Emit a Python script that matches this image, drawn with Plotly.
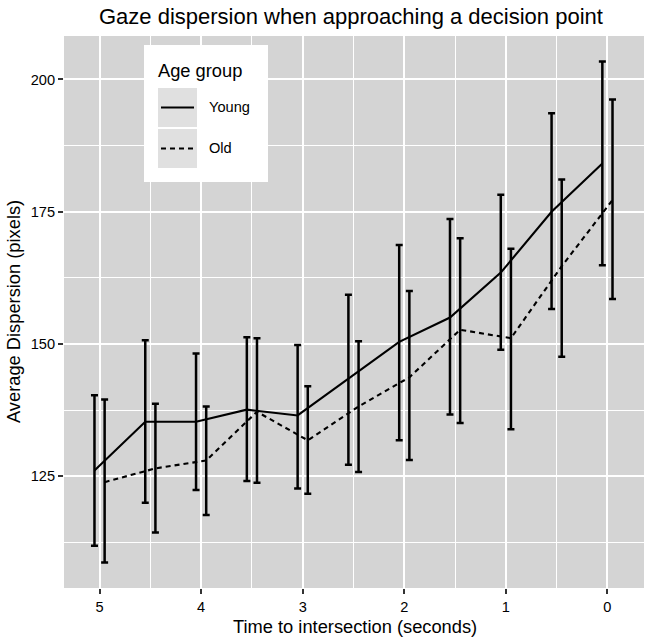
import plotly.graph_objects as go

# ---- data ----
time_s = [5, 4.5, 4, 3.5, 3, 2.5, 2, 1.5, 1, 0.5, 0]
young_mean = [126.1, 135.3, 135.3, 137.6, 136.5, 143.4, 150.4, 155.0, 163.5, 175.0, 184.1]
young_upper = [140.3, 150.7, 148.2, 151.3, 149.8, 159.3, 168.7, 173.6, 178.2, 193.6, 203.4]
young_lower = [111.9, 120.0, 122.4, 124.1, 122.7, 127.2, 131.8, 136.7, 148.9, 156.6, 164.9]
old_mean = [123.9, 126.5, 128.0, 137.2, 131.8, 138.2, 143.7, 152.7, 151.1, 164.7, 177.2]
old_upper = [139.5, 138.7, 138.2, 151.1, 142.0, 150.5, 160.0, 170.0, 168.0, 181.1, 196.2]
old_lower = [108.7, 114.4, 117.7, 123.8, 121.7, 125.8, 128.1, 135.1, 133.9, 147.6, 158.5]
x_ticks = [5, 4, 3, 2, 1, 0]
y_ticks = [125, 150, 175, 200]
groups = ["Young", "Old"]

W, H = 646, 644
ML, MR, MT, MB = 64, 2, 36, 56
PW, PH = W - ML - MR, H - MT - MB
DODGE = 0.05
FONT = "Liberation Sans, Arial, Helvetica, sans-serif"


def px2x(px):
    return (px - ML) / PW


def py2y(py):
    return (H - MB - py) / PH


fig = go.Figure()


def add_series(mean, upper, lower, offset, dash):
    xs = [t + offset for t in time_s]
    fig.add_trace(go.Scatter(
        x=xs, y=mean, mode="lines",
        line=dict(color="black", width=2.1, dash=dash),
        error_y=dict(type="data", symmetric=False,
                     array=[u - m for u, m in zip(upper, mean)],
                     arrayminus=[m - l for m, l in zip(mean, lower)],
                     color="black", thickness=2.5, width=3.5),
        showlegend=False, hoverinfo="skip"))


add_series(young_mean, young_upper, young_lower, DODGE, "solid")
add_series(old_mean, old_upper, old_lower, -DODGE, "5px,4px")

shapes = []
annotations = []

# legend (custom, ggplot-like)
shapes.append(dict(type="rect", xref="paper", yref="paper",
                   x0=px2x(144), x1=px2x(268), y0=py2y(182), y1=py2y(45),
                   fillcolor="white", line=dict(width=0), layer="above"))
key_rows = [(88, 127), (129, 168)]
dashes = ["solid", "5px,4px"]
for (top, bot), name, dsh in zip(key_rows, groups, dashes):
    shapes.append(dict(type="rect", xref="paper", yref="paper",
                       x0=px2x(158), x1=px2x(197), y0=py2y(bot), y1=py2y(top),
                       fillcolor="#e0e0e0", line=dict(width=0), layer="above"))
    mid = (top + bot) / 2
    shapes.append(dict(type="line", xref="paper", yref="paper",
                       x0=px2x(161), x1=px2x(194), y0=py2y(mid), y1=py2y(mid),
                       line=dict(color="black", width=2.1, dash=dsh), layer="above"))
    annotations.append(dict(text=name, xref="paper", yref="paper",
                            x=px2x(207), y=py2y(mid), xanchor="left", yanchor="middle",
                            showarrow=False, font=dict(family=FONT, size=14.6, color="black")))
annotations.append(dict(text="Age group", xref="paper", yref="paper",
                        x=px2x(156), y=py2y(70), xanchor="left", yanchor="middle",
                        showarrow=False, font=dict(family=FONT, size=18.3, color="black")))

# titles
annotations.append(dict(text="Gaze dispersion when approaching a decision point",
                        xref="paper", yref="paper", x=px2x(351), y=py2y(16),
                        xanchor="center", yanchor="middle", showarrow=False,
                        font=dict(family=FONT, size=22, color="black")))
annotations.append(dict(text="Time to intersection (seconds)",
                        xref="paper", yref="paper", x=px2x(355), y=py2y(626),
                        xanchor="center", yanchor="middle", showarrow=False,
                        font=dict(family=FONT, size=18.3, color="black")))
annotations.append(dict(text="Average Dispersion (pixels)",
                        xref="paper", yref="paper", x=px2x(13), y=py2y(312),
                        xanchor="center", yanchor="middle", textangle=-90, showarrow=False,
                        font=dict(family=FONT, size=18.3, color="black")))

fig.update_layout(
    width=W, height=H,
    margin=dict(l=ML, r=MR, t=MT, b=MB, autoexpand=False),
    paper_bgcolor="white", plot_bgcolor="#d4d4d4",
    font=dict(family=FONT, color="black"),
    shapes=shapes, annotations=annotations,
    showlegend=False,
)
fig.update_xaxes(
    range=[5.35, -0.36], tickmode="array", tickvals=x_ticks,
    ticktext=[str(v) for v in x_ticks],
    showgrid=True, gridcolor="white", gridwidth=1.6, zeroline=False,
    ticks="outside", ticklen=5, tickwidth=2, tickcolor="#333333",
    tickfont=dict(family=FONT, size=14.6, color="black"),
    minor=dict(dtick=0.5, tick0=0, showgrid=True, gridcolor="white", gridwidth=0.8, ticks=""),
    showline=False, automargin=False,
)
fig.update_yaxes(
    range=[103.9, 208.2], tickmode="array", tickvals=y_ticks,
    ticktext=[str(v) for v in y_ticks],
    showgrid=True, gridcolor="white", gridwidth=1.6, zeroline=False,
    ticks="outside", ticklen=5, tickwidth=2, tickcolor="#333333",
    tickfont=dict(family=FONT, size=14.6, color="black"),
    minor=dict(dtick=12.5, tick0=100, showgrid=True, gridcolor="white", gridwidth=0.8, ticks=""),
    showline=False, automargin=False,
)

fig.write_html("out.html", config={"displayModeBar": False},
               post_script="document.body.style.margin='0';document.body.style.padding='0';")
